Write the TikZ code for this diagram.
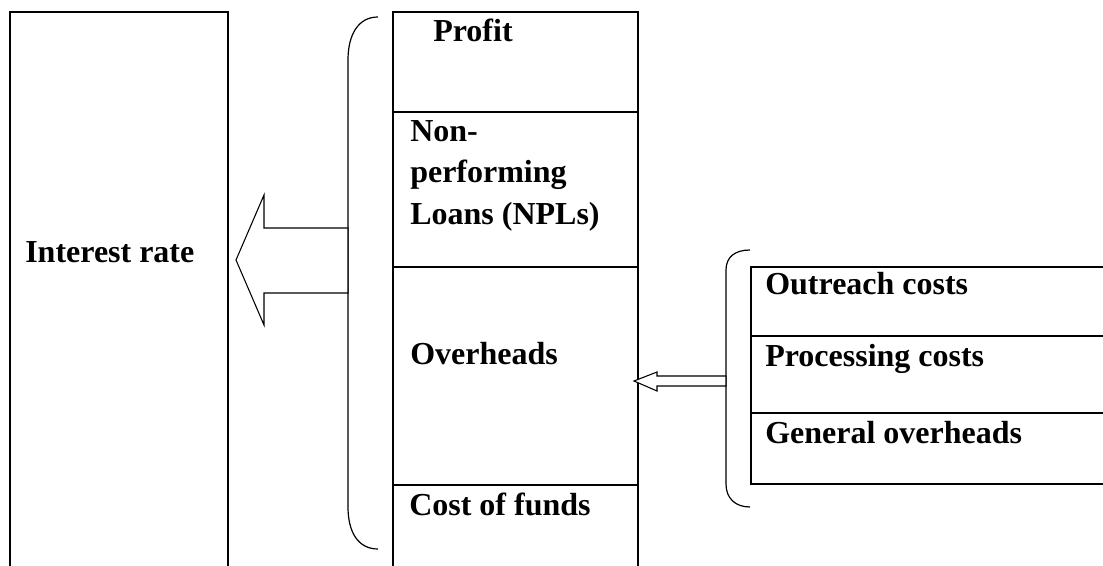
\documentclass[tikz,border=0pt]{standalone}
\usepackage{fontspec}
\setmainfont{Liberation Serif}
\usetikzlibrary{positioning}

\begin{document}
\begin{tikzpicture}[x=0.75pt,y=-0.75pt,
    box/.style={line width=1.5pt},
    brace/.style={line width=0.9pt},
    fat/.style={line width=0.8pt,fill=white},
    lbl/.style={anchor=base west,inner sep=0pt,font=\bfseries\fontsize{24}{30}\selectfont}]
    \useasboundingbox (0,0) rectangle (1103,566);
    \clip (0,0) rectangle (1103,566);

    % left column
    \draw[box] (10,12) rectangle (228,620);
    % middle column
    \draw[box] (393,12) rectangle (638,620);
    \foreach \y in {112,267,485}
      \draw[box] (393,\y) -- (638,\y);
    % right column
    \draw[box] (751,267) rectangle (1150,484);
    \foreach \y in {336,413}
      \draw[box] (751,\y) -- (1150,\y);

    % brackets
    \coordinate (b1t) at (378,17);
    \coordinate (b1b) at (378,549);
    \draw[brace] (b1t) .. controls (358,17) and (348,35) .. (348,60)
        -- (348,507) .. controls (348,532) and (358,549) .. (b1b);
    \coordinate (b2t) at (750,250);
    \coordinate (b2b) at (750,507);
    \draw[brace] (b2t) .. controls (735,250) and (726,257) .. (726,270)
        -- (726,484) .. controls (726,498) and (735,507) .. (b2b);

    % arrows
    \coordinate (tip1) at (236,260);
    \coordinate (tip2) at (634,381);
    \draw[fat] (tip1) -- (264,195) -- (264,228) -- (348,228)
        -- (348,293) -- (264,293) -- (264,325) -- cycle;
    \draw[fat] (tip2) -- (657,372) -- (657,376) -- (726,376)
        -- (726,386) -- (657,386) -- (657,391) -- cycle;

    \foreach \x/\y/\t/\k in {25/263/Interest rate/rate,433/42/Profit/profit,
        410/142/Non-/npla,410/183/performing/nplb,410/225/Loans (NPLs)/nplc,
        410/365/Overheads/over,409/515/Cost of funds/funds,
        765/295/Outreach costs/reach,765/367/Processing costs/proc,
        765/443/General overheads/gen}
      \node[lbl] (\k) at (\x,\y) {\t};
\end{tikzpicture}
\end{document}
